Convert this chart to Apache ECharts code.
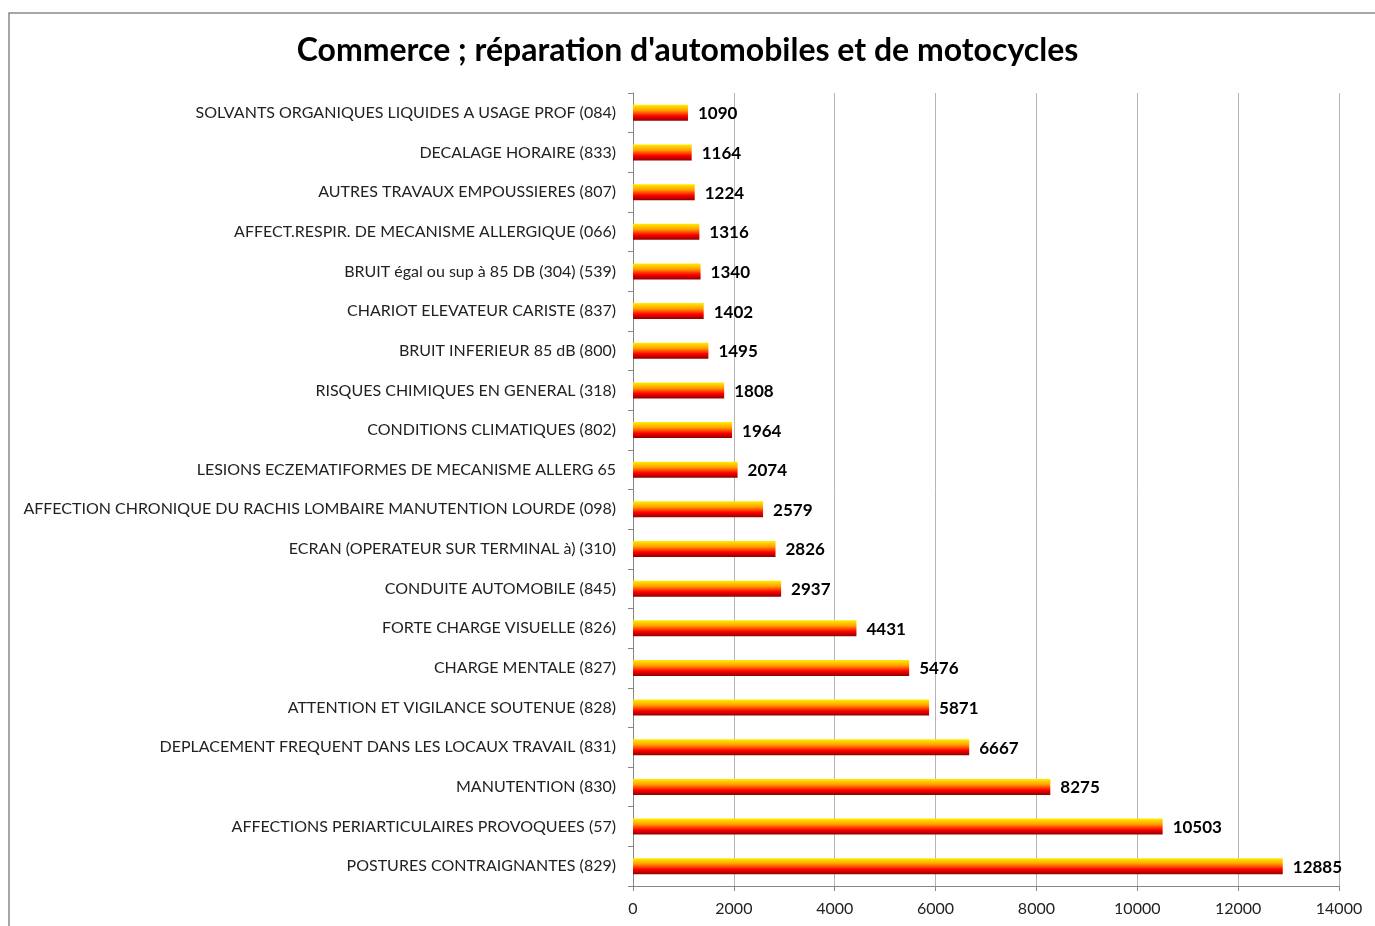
<!DOCTYPE html>
<html>
<head>
<meta charset="utf-8">
<script src="https://cdn.jsdelivr.net/npm/echarts@6/dist/echarts.min.js"></script>
<style>
  html, body { margin: 0; padding: 0; background: #fff; }
  #chart { width: 1375px; height: 926px; }
</style>
</head>
<body>
<div id="chart"></div>
<script>
// catégories (de haut en bas)
const categories = [
  'SOLVANTS ORGANIQUES LIQUIDES A USAGE PROF (084)',
  'DECALAGE HORAIRE (833)',
  'AUTRES TRAVAUX EMPOUSSIERES (807)',
  'AFFECT.RESPIR. DE MECANISME ALLERGIQUE (066)',
  'BRUIT égal ou sup à 85 DB (304) (539)',
  'CHARIOT ELEVATEUR CARISTE (837)',
  'BRUIT INFERIEUR 85 dB (800)',
  'RISQUES CHIMIQUES EN GENERAL (318)',
  'CONDITIONS CLIMATIQUES (802)',
  'LESIONS ECZEMATIFORMES DE MECANISME ALLERG 65',
  'AFFECTION CHRONIQUE DU RACHIS LOMBAIRE MANUTENTION LOURDE (098)',
  'ECRAN (OPERATEUR SUR TERMINAL à) (310)',
  'CONDUITE AUTOMOBILE (845)',
  'FORTE CHARGE VISUELLE (826)',
  'CHARGE MENTALE (827)',
  'ATTENTION ET VIGILANCE SOUTENUE (828)',
  'DEPLACEMENT FREQUENT DANS LES LOCAUX TRAVAIL (831)',
  'MANUTENTION (830)',
  'AFFECTIONS PERIARTICULAIRES PROVOQUEES (57)',
  'POSTURES CONTRAIGNANTES (829)'
];
const values = [1090, 1164, 1224, 1316, 1340, 1402, 1495, 1808, 1964, 2074,
  2579, 2826, 2937, 4431, 5476, 5871, 6667, 8275, 10503, 12885];
const titleText = "Commerce ; réparation d'automobiles et de motocycles";

const chart = echarts.init(document.getElementById('chart'));
const fontFamily = 'Lato, "Noto Sans", sans-serif';

chart.setOption({
  backgroundColor: '#fff',
  animation: false,
  // cadre gris autour du graphique
  graphic: [{
    type: 'rect',
    shape: { x: 9, y: 13, width: 1400, height: 1000 },
    style: { fill: 'none', stroke: '#8a8a8a', lineWidth: 1.5 },
    silent: true
  }],
  title: {
    text: titleText,
    left: 'center',
    top: 30,
    textStyle: { fontFamily, fontSize: 32, fontWeight: 'bold', color: '#000' }
  },
  grid: { left: 633, right: 36, top: 93, bottom: 40 },
  xAxis: {
    type: 'value',
    min: 0,
    max: 14000,
    interval: 2000,
    axisLine: { show: true, lineStyle: { color: '#868686' } },
    axisTick: { show: true, length: 5, lineStyle: { color: '#868686' } },
    axisLabel: { fontFamily, fontSize: 16, color: '#222', margin: 15, formatter: v => String(v) },
    splitLine: { lineStyle: { color: '#b4b4b4', width: 1 } }
  },
  yAxis: {
    type: 'category',
    data: categories,
    inverse: true,
    axisLine: { lineStyle: { color: '#868686' } },
    axisTick: { show: true, length: 5, lineStyle: { color: '#868686' } },
    axisLabel: { fontFamily, fontSize: 16, color: '#222', margin: 17 }
  },
  series: [{
    type: 'bar',
    data: values,
    barWidth: 16,
    itemStyle: {
      color: new echarts.graphic.LinearGradient(0, 0, 0, 1, [
        { offset: 0, color: '#ffee00' },
        { offset: 0.35, color: '#ffa000' },
        { offset: 0.7, color: '#ff0000' },
        { offset: 1, color: '#900000' }
      ])
    },
    label: {
      show: true,
      position: 'right',
      distance: 10,
      offset: [0, 1],
      fontFamily,
      fontSize: 17,
      fontWeight: 'bold',
      color: '#000'
    }
  }]
});
</script>
</body>
</html>
